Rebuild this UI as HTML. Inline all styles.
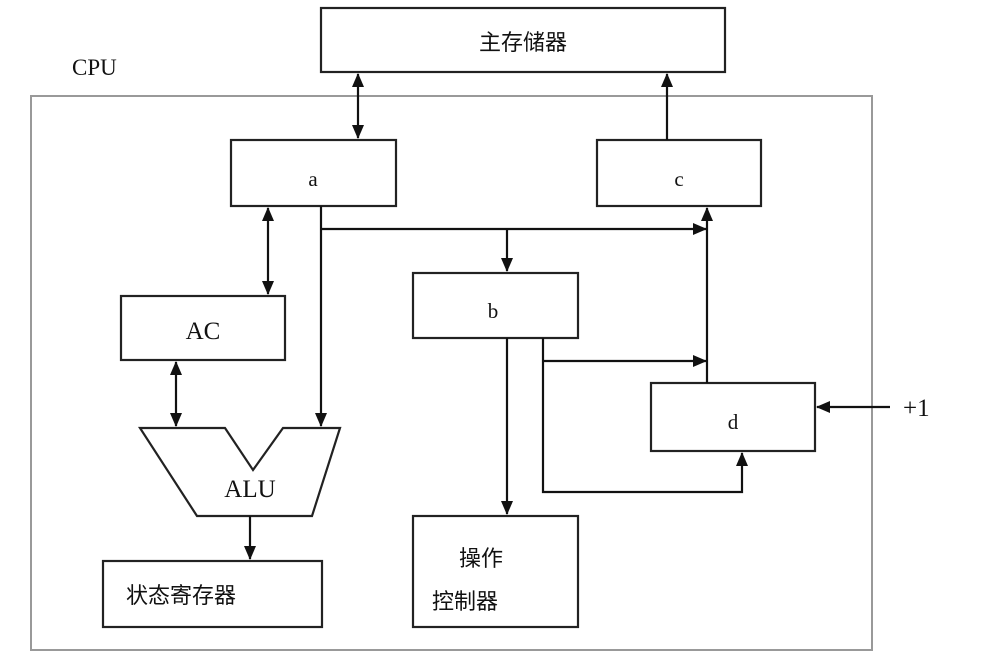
<!DOCTYPE html>
<html><head><style>
html,body{margin:0;padding:0;background:#fff;}
svg{display:block;}
text{font-family:"Liberation Serif","Noto Sans CJK SC",serif;fill:#111;}
.cjk{font-family:"Liberation Sans","Noto Sans CJK SC",sans-serif;font-size:22px;}
</style></head><body>
<svg width="990" height="664" viewBox="0 0 990 664" xmlns="http://www.w3.org/2000/svg">
<defs>
<marker id="ah" markerWidth="14" markerHeight="14" refX="13" refY="7" orient="auto" markerUnits="userSpaceOnUse" viewBox="0 0 14 14">
<path d="M0,1 L14,7 L0,13 z" fill="#111"/>
</marker>
<marker id="as" markerWidth="14" markerHeight="14" refX="1" refY="7" orient="auto" markerUnits="userSpaceOnUse" viewBox="0 0 14 14">
<path d="M14,1 L0,7 L14,13 z" fill="#111"/>
</marker>
</defs>
<rect x="31" y="96" width="841" height="554" fill="none" stroke="#999" stroke-width="2"/>
<text x="72" y="75" font-size="23">CPU</text>
<g fill="none" stroke="#222" stroke-width="2.2">
<rect x="321" y="8" width="404" height="64"/>
<rect x="231" y="140" width="165" height="66"/>
<rect x="597" y="140" width="164" height="66"/>
<rect x="121" y="296" width="164" height="64"/>
<rect x="413" y="273" width="165" height="65"/>
<rect x="651" y="383" width="164" height="68"/>
<rect x="103" y="561" width="219" height="66"/>
<rect x="413" y="516" width="165" height="111"/>
<polygon points="140,428 225,428 253,470 283,428 340,428 312,516 197,516"/>
</g>
<g fill="none" stroke="#111" stroke-width="2.2">
<line x1="358" y1="74" x2="358" y2="138" marker-start="url(#as)" marker-end="url(#ah)"/>
<line x1="268" y1="208" x2="268" y2="294" marker-start="url(#as)" marker-end="url(#ah)"/>
<line x1="176" y1="362" x2="176" y2="426" marker-start="url(#as)" marker-end="url(#ah)"/>
<line x1="321" y1="206" x2="321" y2="426" marker-end="url(#ah)"/>
<line x1="321" y1="229" x2="706" y2="229" marker-end="url(#ah)"/>
<line x1="507" y1="229" x2="507" y2="271" marker-end="url(#ah)"/>
<line x1="707" y1="383" x2="707" y2="208" marker-end="url(#ah)"/>
<line x1="667" y1="140" x2="667" y2="74" marker-end="url(#ah)"/>
<line x1="507" y1="338" x2="507" y2="514" marker-end="url(#ah)"/>
<polyline points="543,338 543,492 742,492 742,453" marker-end="url(#ah)"/>
<line x1="543" y1="361" x2="706" y2="361" marker-end="url(#ah)"/>
<line x1="890" y1="407" x2="817" y2="407" marker-end="url(#ah)"/>
<line x1="250" y1="516" x2="250" y2="559" marker-end="url(#ah)"/>
</g>
<text class="cjk" x="523" y="50" text-anchor="middle">主存储器</text>
<text x="313" y="186" font-size="21" text-anchor="middle">a</text>
<text x="679" y="186" font-size="21" text-anchor="middle">c</text>
<text x="203" y="339" font-size="25" text-anchor="middle">AC</text>
<text x="493" y="318" font-size="21" text-anchor="middle">b</text>
<text x="733" y="429" font-size="21" text-anchor="middle">d</text>
<text x="250" y="497" font-size="25" text-anchor="middle">ALU</text>
<text x="903" y="416" font-size="25">+1</text>
<text class="cjk" x="126" y="603">状态寄存器</text>
<text class="cjk" x="459" y="566">操作</text>
<text class="cjk" x="432" y="609">控制器</text>
</svg>
</body></html>
